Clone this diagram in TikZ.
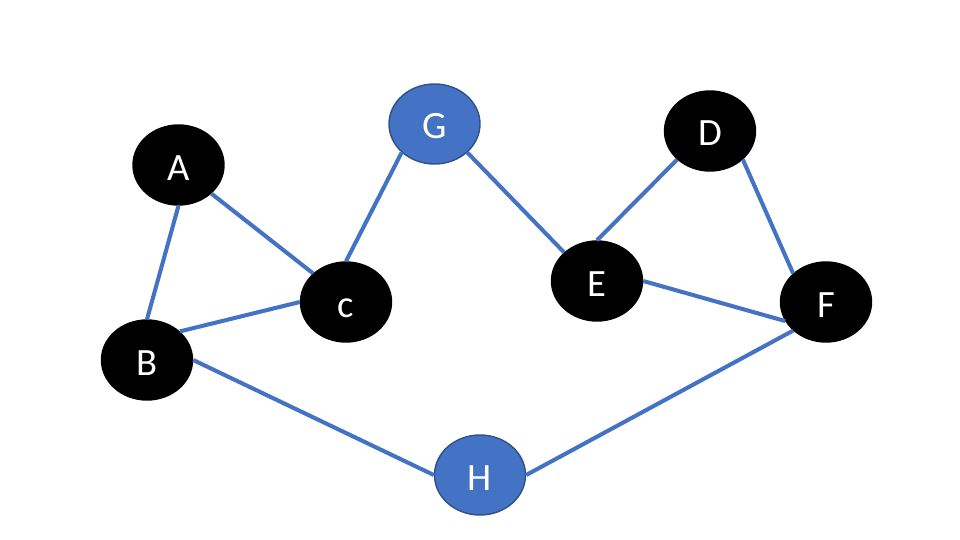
\documentclass[tikz,border=0pt]{standalone}
\usepackage{fontspec}
\setmainfont{Carlito}
\usepackage{xcolor}
\usepackage{tikz}
\usetikzlibrary{shapes.geometric, positioning}

\definecolor{nodeblue}{HTML}{4472C4}

\begin{document}
\begin{tikzpicture}[
  on grid,
  vtx/.style={ellipse, draw=#1!70!black, line width=0.8pt, fill=#1,
              minimum width=1.82cm, minimum height=1.6cm, inner sep=0pt,
              text=white, text height=0.6cm, text depth=0pt,
              font=\fontsize{22}{26}\selectfont},
  lnk/.style={draw=nodeblue, line width=2.3pt}
]
\useasboundingbox (0,0) rectangle (19.2,-10.8);

% Left group: A, B, c
\node[vtx=black] (a) at (3.57,-3.30) {A};
\node[vtx=black, below left=3.90cm and 0.63cm of a]  (b) {B};
\node[vtx=black, below right=2.74cm and 3.35cm of a] (c) {c};

% Top: G, then E and D to the right
\node[vtx=nodeblue, above right=3.56cm and 1.77cm of c] (g) {G};
\node[vtx=black, below right=3.14cm and 3.25cm of g]    (e) {E};
\node[vtx=black, above right=3.00cm and 2.26cm of e]    (d) {D};
\node[vtx=black, right=9.60cm of c]                     (f) {F};

% Bottom: H
\node[vtx=nodeblue, below right=3.46cm and 2.68cm of c] (h) {H};

% Edges
\draw[lnk] (a.south) -- (b.north);
\draw[lnk] (a.-41)   -- (c.139);
\draw[lnk] (b.41)    -- (c.west);
\draw[lnk] (g.221)   -- (c.north);
\draw[lnk] (g.-41)   -- (e.139);
\draw[lnk] (d.221)   -- (e.north);
\draw[lnk] (d.-41)   -- (f.139);
\draw[lnk] (e.east)  -- (f.205);
\draw[lnk] (b.east)  -- (h.west);
\draw[lnk] (h.east)  -- (f.221);

\end{tikzpicture}
\end{document}
